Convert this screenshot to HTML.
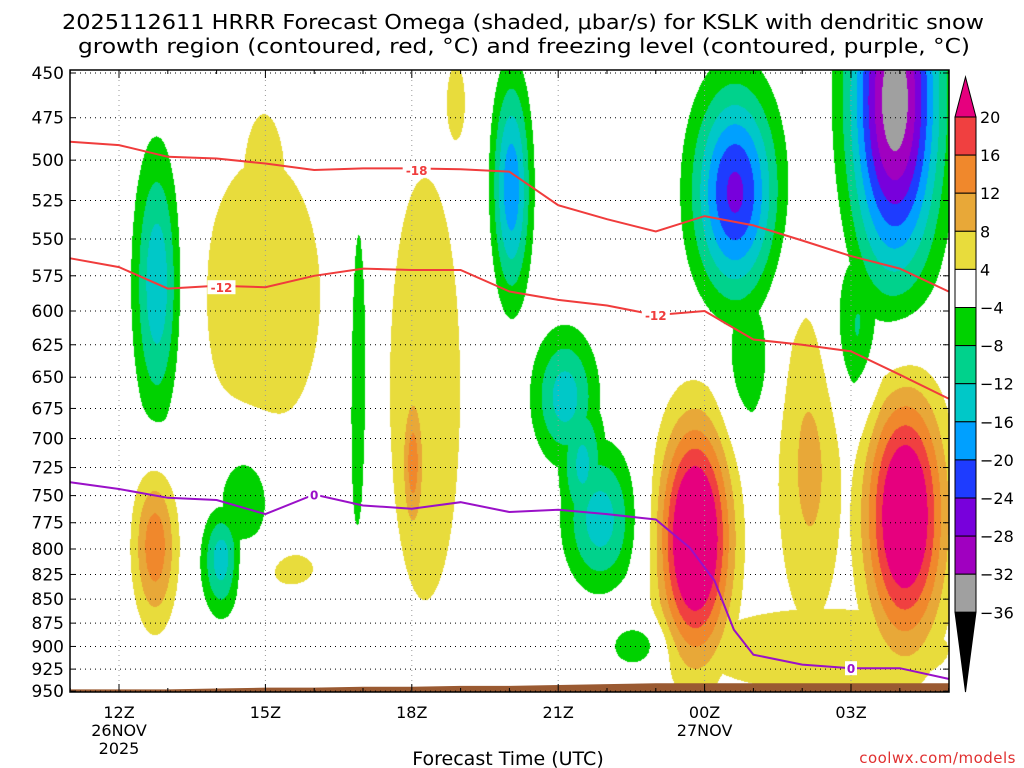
<!DOCTYPE html>
<html><head><meta charset="utf-8"><style>
html,body{margin:0;padding:0;background:#fff;width:1024px;height:768px;overflow:hidden}
#wrap{position:relative;width:1024px;height:768px}
canvas,svg{position:absolute;left:0;top:0}
text{font-family:"DejaVu Sans","Liberation Sans",sans-serif}
</style></head><body>
<div id="wrap">
<canvas id="field" width="1024" height="768"></canvas>
<svg id="ov" width="1024" height="768"></svg>
</div>
<script>
// ---- data ----
const hours = [-1,0,1,2,3,4,5,6,7,8,9,10,11,12,13,14,15,16,17];
const levels = [450,475,500,525,550,575,600,625,650,675,700,725,750,775,800,825,850,875,900,925,950];
const timeTicks = [0,3,6,9,12,15];
const timeLabels = ["12Z","15Z","18Z","21Z","00Z","03Z"];
const dateLabels = [["26NOV","2025"],[],[],[],["27NOV"],[]];
// omega cells: [tStart, tEnd, pTop, pBottom, peak µbar/s]
const omegaT0 = [0.23,0.23,1.65,2.0,1.76,2.55,2.95,6.72,4.7,5.55,5.75,7.56,8.42,9.04,10.02,10.78,11.5,12.5,14.6,14.6,14.98,13.5,11.9,9.0];
const omegaT1 = [1.35,1.25,2.55,3.15,4.12,3.4,3.98,7.09,5.1,6.99,6.3,8.52,9.86,10.68,11.09,12.83,13.75,13.34,17.2,15.6,17.23,14.82,17.0,10.0];
const omegaP0 = [482,714,754,705,500,473,803,446,512,511,650,440,610,700,875,650,440,592,344,560,621,599,860,660];
const omegaP1 = [700,888,872,800,693,560,836,488,800,851,800,607,726,851,926,960,614,684,629,670,950,875,950,790];
const omegaPeak = [-16,15,-15,-9,7,5,5,5,-7,7.5,14,-19,-14,-14,-9,30,-25,-8,-35,-9,28,9,6,-13];
const dgzMinus18 = [489,491,498,499,502,506,505,505,505.5,507,528,537,545,535,541,551,561.5,570,586];
const dgzMinus12 = [563,569,584,582,583,575,570,571,571,586,592,596,603,600,621,625,630,648,667];
const frzHours = [-1,0,1,2,3,4,5,6,7,8,9,10,11,11.7,12.2,12.6,13,14,15,16,17];
const frzP = [738,744,752,754,767,749,759,762,756,765,763,767,772,799,831,882,909,920,924,924,936];
const sfcP = [948,948,948,947,946,946,945,945,944,944,943,942,941,941,941,941,941,941,941];
const cbLevels = [20,16,12,8,4,-4,-8,-12,-16,-20,-24,-28,-32,-36];
const cbColors = ["#f04040","#f0882c","#e8a838","#e8dc3c","#ffffff","#00d200","#00d28c","#00c8c8","#00a0ff","#1e3cff","#7800dc","#a000c0","#a0a0a0"];

// ---- axes ----
const X0=70,X1=949,Y0=70,Y1=692;
const xOf = h => 119 + h*48.8;
const yOf = p => 73 + 827.3*Math.log(p/450);
const hOf = x => (x-119)/48.8;
const pOf = y => 450*Math.exp((y-73)/827.3);

// ---- field ----
function colorFor(v){
  if(v>=20) return [230,0,126];
  if(v>=16) return [240,64,64];
  if(v>=12) return [240,136,44];
  if(v>=8) return [232,168,56];
  if(v>=4) return [232,220,60];
  if(v>-4) return [255,255,255];
  if(v>-8) return [0,210,0];
  if(v>-12) return [0,210,140];
  if(v>-16) return [0,200,200];
  if(v>-20) return [0,160,255];
  if(v>-24) return [30,60,255];
  if(v>-28) return [120,0,220];
  if(v>-32) return [160,0,192];
  if(v>-36) return [160,160,160];
  return [0,0,0];
}
const blobs = omegaPeak.map((pk,i)=>{
  const R = Math.sqrt(Math.log(Math.abs(pk)/4));
  return {tc:(omegaT0[i]+omegaT1[i])/2, sx:(omegaT1[i]-omegaT0[i])/2/R,
    lc:(Math.log(omegaP0[i])+Math.log(omegaP1[i]))/2, sy:(Math.log(omegaP1[i])-Math.log(omegaP0[i]))/2/R, pk};
});
const cv=document.getElementById('field'), ctx=cv.getContext('2d');
const W=X1-X0, H=Y1-Y0, img=ctx.createImageData(W,H);
for(let j=0;j<H;j++){
  const lp=Math.log(pOf(Y0+j+0.5));
  for(let i=0;i<W;i++){
    const t=hOf(X0+i+0.5); let pos=0,neg=0;
    for(const b of blobs){const a=(t-b.tc)/b.sx, c=(lp-b.lc)/b.sy; const r=a*a+c*c; if(r<12){const v=b.pk*Math.exp(-r); if(v>pos)pos=v; if(v<neg)neg=v;}}
    const col=colorFor(pos+neg), k=(j*W+i)*4;
    img.data[k]=col[0];img.data[k+1]=col[1];img.data[k+2]=col[2];img.data[k+3]=255;
  }
}
ctx.putImageData(img,X0,Y0);

// ---- overlay ----
const NS="http://www.w3.org/2000/svg", svg=document.getElementById('ov');
function mk(tag,attrs,parent){const e=document.createElementNS(NS,tag);for(const k in attrs)e.setAttribute(k,attrs[k]);(parent||svg).appendChild(e);return e;}
function txt(s,attrs,parent){const e=mk('text',attrs,parent);e.textContent=s;return e;}

let sp="M"+xOf(hours[0])+","+Y1;
hours.forEach((h,i)=>{sp+=" L"+xOf(h)+","+yOf(sfcP[i]);});
sp+=" L"+xOf(hours[hours.length-1])+","+Y1+" Z";
const sfc=mk('path',{d:sp,fill:"#9a5a32"});



const grid=mk('g',{});


levels.forEach(p=>{const y=yOf(p);mk('line',{x1:X0,x2:X1,y1:y,y2:y,stroke:"#000","stroke-width":1,"stroke-dasharray":"1,4"},grid);});
timeTicks.forEach(h=>{const x=xOf(h);mk('line',{x1:x,x2:x,y1:Y0,y2:Y1,stroke:"#999","stroke-width":1,"stroke-dasharray":"1,4"},grid);});

function linePath(xs,ys){return xs.map((h,i)=>(i?"L":"M")+xOf(h).toFixed(1)+","+yOf(ys[i]).toFixed(1)).join(" ");}
const l18=mk('path',{d:linePath(hours,dgzMinus18),fill:"none",stroke:"#f03c3c","stroke-width":2});


const l12=mk('path',{d:linePath(hours,dgzMinus12),fill:"none",stroke:"#f03c3c","stroke-width":2});


const lf=mk('path',{d:linePath(frzHours,frzP),fill:"none",stroke:"#9a10c8","stroke-width":2});


function clabel(s,h,p,col,name){
  const x=xOf(h),y=yOf(p);
  const w=s.length*8+4;
  const g=mk('g',{});
  
  
  mk('rect',{x:x-w/2,y:y-7,width:w,height:14,fill:"#fff"},g);
  txt(s,{x:x,y:y+5,"text-anchor":"middle","font-size":12,"font-weight":"bold",fill:col},g);
}
clabel("-18",6.1,506,"#f03c3c","label-minus18");
clabel("-12",2.1,583,"#f03c3c","label-minus12-left");
clabel("-12",11,603,"#f03c3c","label-minus12-right");
clabel("0",4,749,"#9a10c8","label-freezing-left");
clabel("0",15,924,"#9a10c8","label-freezing-right");

const fr=mk('rect',{x:X0,y:Y0,width:X1-X0,height:Y1-Y0,fill:"none",stroke:"#000","stroke-width":1.5});


const yax=mk('g',{});


levels.forEach(p=>{const y=yOf(p);
  mk('line',{x1:X0,x2:X0+6,y1:y,y2:y,stroke:"#000"},yax);
  mk('line',{x1:X1-6,x2:X1,y1:y,y2:y,stroke:"#000"},yax);
  txt(String(p),{x:64,y:y+6,"text-anchor":"end","font-size":17,fill:"#000"},yax);});
const xax=mk('g',{});


hours.forEach(h=>{const x=xOf(h); if(x<X0||x>X1) return;
  const L=timeTicks.includes(h)?8:4;
  mk('line',{x1:x,x2:x,y1:Y1,y2:Y1-L,stroke:"#000"},xax);
  mk('line',{x1:x,x2:x,y1:Y0,y2:Y0+L,stroke:"#000"},xax);});
timeTicks.forEach((h,i)=>{const x=xOf(h);
  txt(timeLabels[i],{x:x,y:718,"text-anchor":"middle","font-size":16,fill:"#000"},xax);
  dateLabels[i].forEach((d,k)=>txt(d,{x:x,y:736+k*18,"text-anchor":"middle","font-size":16,fill:"#000"},xax));});
const xt=txt("Forecast Time (UTC)",{x:508,y:765,"text-anchor":"middle","font-size":19,fill:"#000"});


const cr=txt("coolwx.com/models",{x:1016,y:763,"text-anchor":"end","font-size":15,fill:"#e03030","letter-spacing":"0.5"});



const tg=mk('g',{});


txt("2025112611 HRRR Forecast Omega (shaded, μbar/s) for KSLK with dendritic snow",{x:62,y:29,"font-size":20,textLength:922,lengthAdjust:"spacingAndGlyphs",fill:"#000"},tg);
txt("growth region (contoured, red, °C) and freezing level (contoured, purple, °C)",{x:78,y:53,"font-size":20,textLength:892,lengthAdjust:"spacingAndGlyphs",fill:"#000"},tg);

const cb=mk('g',{});


const CX0=955,CX1=976,CT=117,CS=38.1;
mk('polygon',{points:`${CX0},${CT} ${CX1},${CT} ${(CX0+CX1)/2},77`,fill:"#e6007e",stroke:"#000"},cb);
cbColors.forEach((c,i)=>{mk('rect',{x:CX0,y:CT+i*CS,width:CX1-CX0,height:CS,fill:c,stroke:"#000"},cb);});
const CB=CT+cbColors.length*CS;
mk('polygon',{points:`${CX0},${CB} ${CX1},${CB} ${(CX0+CX1)/2},692`,fill:"#000",stroke:"#000"},cb);
cbLevels.forEach((v,i)=>{txt(v<0?"−"+(-v):String(v),{x:980,y:CT+i*CS+6,"font-size":16,fill:"#000"},cb);});
</script>
</body></html>
